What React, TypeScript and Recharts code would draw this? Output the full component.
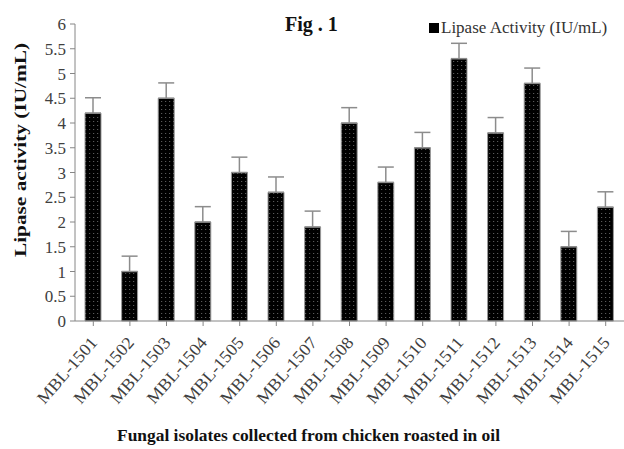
import { Bar, BarChart, ErrorBar, Label, XAxis, YAxis } from "recharts";

const isolates = [
  "MBL-1501", "MBL-1502", "MBL-1503", "MBL-1504", "MBL-1505",
  "MBL-1506", "MBL-1507", "MBL-1508", "MBL-1509", "MBL-1510",
  "MBL-1511", "MBL-1512", "MBL-1513", "MBL-1514", "MBL-1515",
];
const lipaseActivity = [4.2, 1.0, 4.5, 2.0, 3.0, 2.6, 1.9, 4.0, 2.8, 3.5, 5.3, 3.8, 4.8, 1.5, 2.3];
const errorUp = [0.31, 0.31, 0.31, 0.31, 0.31, 0.31, 0.32, 0.31, 0.31, 0.31, 0.31, 0.31, 0.31, 0.31, 0.31];
const yTicks = [0, 0.5, 1, 1.5, 2, 2.5, 3, 3.5, 4, 4.5, 5, 5.5, 6];

const data = isolates.map((name, i) => ({
  name,
  activity: lipaseActivity[i],
  err: [0, errorUp[i]],
}));

const FONT = "Liberation Serif";

function IsolateTick({ x, y, payload }: any) {
  const px = x + 5;
  const py = y + 15;
  return (
    <text
      x={px}
      y={py}
      transform={`rotate(-49 ${px} ${py})`}
      textAnchor="end"
      fontFamily={FONT}
      fontSize={17}
      fill="#404040"
      textLength={82}
      lengthAdjust="spacingAndGlyphs"
    >
      {payload.value}
    </text>
  );
}

function ValueTick({ x, y, payload }: any) {
  return (
    <text
      x={x - 2}
      y={y}
      dy={6}
      textAnchor="end"
      fontFamily={FONT}
      fontSize={17}
      fill="#404040"
    >
      {payload.value}
    </text>
  );
}

export default function App() {
  return (
    <div style={{ position: "absolute", left: 0, top: 0, width: 624, height: 449, background: "#fff" }}>
      <BarChart
        width={624}
        height={449}
        data={data}
        margin={{ top: 24, right: 0, left: 0, bottom: 0 }}
      >
        <defs>
          <pattern id="dots" width="4" height="4" patternUnits="userSpaceOnUse">
            <rect width="4" height="4" fill="#000" />
            <rect x="1" y="1" width="1.2" height="1" fill="#5a5a5a" />
          </pattern>
        </defs>
        <XAxis
          dataKey="name"
          height={128}
          interval={0}
          stroke="#868686"
          tickLine={{ stroke: "#868686" }}
          tick={<IsolateTick />}
          tickSize={5}
        >
          <Label
            content={() => (
              <text
                x={117}
                y={441}
                fontFamily={FONT}
                fontWeight="bold"
                fontSize={17}
                fill="#111"
                textLength={383}
                lengthAdjust="spacingAndGlyphs"
              >
                Fungal  isolates collected from chicken roasted in oil
              </text>
            )}
          />
        </XAxis>
        <YAxis
          width={75}
          domain={[0, 6]}
          ticks={yTicks}
          interval={0}
          stroke="#868686"
          tickSize={5}
          tick={<ValueTick />}
        >
          <Label
            content={() => (
              <text
                x={26}
                y={150}
                transform="rotate(-90 26 150)"
                textAnchor="middle"
                fontFamily={FONT}
                fontWeight="bold"
                fontSize={17}
                fill="#111"
                textLength={214}
                lengthAdjust="spacingAndGlyphs"
              >
                Lipase activity (IU/mL)
              </text>
            )}
          />
        </YAxis>
        <Bar
          dataKey="activity"
          name="Lipase Activity (IU/mL)"
          fill="url(#dots)"
          stroke="#9a9a9a"
          strokeWidth={1}
          barSize={16}
          isAnimationActive={false}
        >
          <ErrorBar
            dataKey="err"
            direction="y"
            width={8}
            stroke="#8c8c8c"
            strokeWidth={1.5}
            isAnimationActive={false}
          />
        </Bar>
      </BarChart>
      <div
        style={{
          position: "absolute",
          left: 285,
          top: 13,
          fontFamily: FONT,
          fontWeight: "bold",
          fontSize: 20,
          color: "#111",
          whiteSpace: "pre",
        }}
      >
        Fig . 1
      </div>
      <div
        style={{
          position: "absolute",
          left: 429,
          top: 18,
          display: "flex",
          alignItems: "center",
          fontFamily: FONT,
          fontSize: 17,
          color: "#333",
          whiteSpace: "pre",
        }}
      >
        <span
          style={{
            display: "inline-block",
            width: 10,
            height: 10,
            background: "#000",
            marginRight: 2,
          }}
        />
        Lipase Activity (IU/mL)
      </div>
    </div>
  );
}
